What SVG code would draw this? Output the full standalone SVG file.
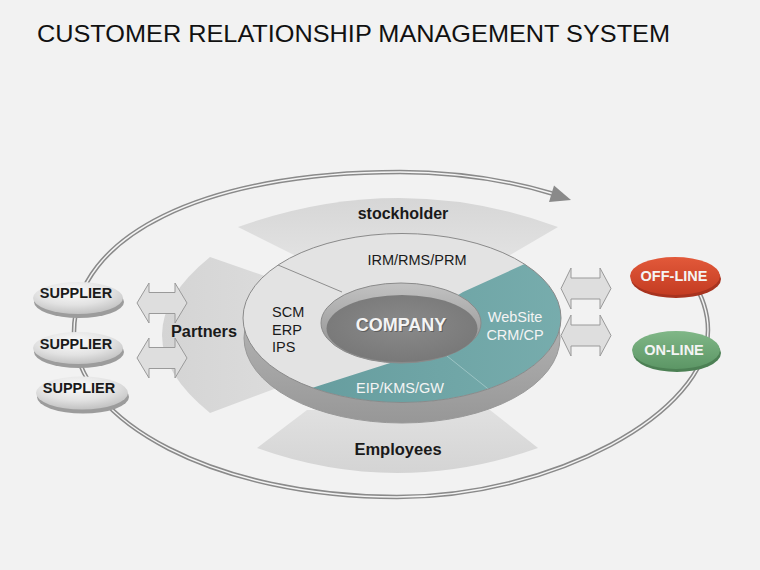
<svg xmlns="http://www.w3.org/2000/svg" width="760" height="570" viewBox="0 0 760 570">
<defs>
<style>
.t{font-family:"Liberation Sans",Arial,sans-serif;}
.title{font-size:24px;fill:#111;}
.b{font-weight:bold;}
.dark{fill:#1a1a1a;}
.white{fill:#f4f4f4;}
.loopOuter{fill:none;stroke:#8a8a8a;stroke-width:4.5;}
.loopInner{fill:none;stroke:#f4f4f4;stroke-width:1.4;}
.barrow{fill:#dedede;stroke:#9a9a9a;stroke-width:1;}
.leaf{stroke:none;}
</style>
<linearGradient id="gLeafTop" x1="0" y1="0" x2="0" y2="1">
<stop offset="0" stop-color="#d6d6d6"/><stop offset="1" stop-color="#e2e2e2"/>
</linearGradient>
<linearGradient id="gLeafBot" x1="0" y1="0" x2="0" y2="1">
<stop offset="0" stop-color="#e0e0e0"/><stop offset="1" stop-color="#d4d4d4"/>
</linearGradient>
<linearGradient id="gLeafLeft" x1="0" y1="0" x2="1" y2="0">
<stop offset="0" stop-color="#d4d4d4"/><stop offset="1" stop-color="#dcdcdc"/>
</linearGradient>
<linearGradient id="gSide" x1="0" y1="0" x2="0" y2="1">
<stop offset="0" stop-color="#c4c4c4"/><stop offset="1" stop-color="#979797"/>
</linearGradient>
<linearGradient id="gTeal" x1="0" y1="0" x2="1" y2="0">
<stop offset="0" stop-color="#62999b"/><stop offset="1" stop-color="#7cb1b1"/>
</linearGradient>
<linearGradient id="gWall" x1="0" y1="0" x2="0" y2="1">
<stop offset="0" stop-color="#c2c2c2"/><stop offset="1" stop-color="#8a8a8a"/>
</linearGradient>
<radialGradient id="gFloor" cx="0.5" cy="0.45" r="0.6">
<stop offset="0" stop-color="#8a8a8a"/><stop offset="1" stop-color="#777"/>
</radialGradient>
<radialGradient id="gSup" cx="0.45" cy="0.3" r="0.7">
<stop offset="0" stop-color="#fbfbfb"/><stop offset="0.6" stop-color="#e2e2e2"/><stop offset="1" stop-color="#c2c2c2"/>
</radialGradient>
<linearGradient id="gRed" x1="0" y1="0" x2="0" y2="1">
<stop offset="0" stop-color="#e2593a"/><stop offset="1" stop-color="#c43c22"/>
</linearGradient>
<linearGradient id="gGreen" x1="0" y1="0" x2="0" y2="1">
<stop offset="0" stop-color="#80b787"/><stop offset="1" stop-color="#5c9665"/>
</linearGradient>
<clipPath id="faceClip"><ellipse cx="402" cy="318" rx="159" ry="84.5"/></clipPath>
<path id="loop" d="M692,280 A308,158 0 0 1 708,330 C708,413.5 552.5,497 397,497 C219,497 74,423 74,332 C74,236 204,172 400,172 A308,158 0 0 1 552,193.5"/>
</defs>

<rect width="760" height="570" fill="#f2f2f2"/>

<text class="t title" x="37" y="42" textLength="633" lengthAdjust="spacingAndGlyphs">CUSTOMER RELATIONSHIP MANAGEMENT SYSTEM</text>

<g id="connectors">
<use href="#loop" class="loopOuter"/>
<use href="#loop" class="loopInner"/>
<polygon points="571,200 554,185.5 549,202" fill="#8a8a8a"/>
</g>

<g id="stockholder">
<path class="leaf" fill="url(#gLeafTop)" d="M238,227 Q400,169 558,227 L505,258 L300,258 Z"/>
<text class="t b dark" x="403" y="219" font-size="16" text-anchor="middle">stockholder</text>
</g>

<g id="employees">
<path class="leaf" fill="url(#gLeafBot)" d="M257,448 Q397,498 538,448 L490,410 L307,410 Z"/>
<text class="t b dark" x="398" y="455" font-size="16.5" text-anchor="middle">Employees</text>
</g>

<g id="partners">
<path class="leaf" fill="url(#gLeafLeft)" d="M210,257 L285,283 L285,385 L210,413 Q114,335 210,257 Z"/>
<text class="t b dark" x="171" y="337" font-size="16" textLength="66" lengthAdjust="spacingAndGlyphs">Partners</text>
</g>

<g id="company-disk">
<ellipse cx="402" cy="338" rx="158" ry="85" fill="url(#gSide)" stroke="#999" stroke-width="1"/>
<ellipse cx="402" cy="318" rx="159" ry="84.5" fill="#e3e3e3"/>
<g clip-path="url(#faceClip)">
<polygon points="463,292 540,257 640,240 640,470 240,470 290,395 412,356 402,330" fill="url(#gTeal)"/>
<line x1="278" y1="265" x2="342" y2="292" stroke="#8e8e8e" stroke-width="1"/>
<line x1="447" y1="356" x2="497" y2="396" stroke="#9cc4c4" stroke-width="1"/>
</g>
<ellipse cx="402" cy="318" rx="159" ry="84.5" fill="none" stroke="#8a8a8a" stroke-width="1"/>
<ellipse cx="401" cy="323" rx="80" ry="40" fill="url(#gWall)" stroke="#8a8a8a" stroke-width="1"/>
<ellipse cx="402" cy="328.5" rx="75.5" ry="33.5" fill="url(#gFloor)"/>
<text class="t b" x="401" y="331" font-size="18" text-anchor="middle" fill="#3a3a3a" opacity="0.5" transform="translate(1,1)">COMPANY</text>
<text class="t b white" x="401" y="331" font-size="18" text-anchor="middle">COMPANY</text>
</g>

<g id="irm">
<text class="t dark" x="417" y="265" font-size="14.5" text-anchor="middle">IRM/RMS/PRM</text>
</g>
<g id="scm">
<text class="t dark" x="272" y="317" font-size="14.5">SCM</text>
<text class="t dark" x="272" y="334.5" font-size="14.5">ERP</text>
<text class="t dark" x="272" y="352" font-size="14.5">IPS</text>
</g>
<g id="website">
<text class="t white" x="515" y="322" font-size="14.5" text-anchor="middle">WebSite</text>
<text class="t white" x="515" y="340" font-size="14.5" text-anchor="middle">CRM/CP</text>
</g>
<g id="eip">
<text class="t white" x="400" y="393" font-size="14.5" text-anchor="middle">EIP/KMS/GW</text>
</g>

<g id="arrows">
<path class="barrow" d="M137,303 L149,283 L149,292.5 L175,292.5 L175,283 L187,303 L175,323 L175,313.5 L149,313.5 L149,323 Z"/>
<path class="barrow" d="M137,358 L149,338 L149,347.5 L175,347.5 L175,338 L187,358 L175,378 L175,368.5 L149,368.5 L149,378 Z"/>
<path class="barrow" d="M561,288.5 L571,268 L571,278 L600,278 L600,268 L611,288.5 L600,309 L600,299 L571,299 L571,309 Z"/>
<path class="barrow" d="M561,335.5 L571,315 L571,325 L600,325 L600,315 L611,335.5 L600,356 L600,346 L571,346 L571,356 Z"/>
</g>

<g id="supplier1">
<ellipse cx="79" cy="302" rx="45" ry="16" fill="#9c9c9c"/>
<ellipse cx="78" cy="298" rx="45" ry="16" fill="url(#gSup)"/>
<text class="t b dark" x="76" y="298" font-size="14.5" text-anchor="middle">SUPPLIER</text>
</g>
<g id="supplier2">
<ellipse cx="79" cy="352" rx="45" ry="16" fill="#9c9c9c"/>
<ellipse cx="78" cy="348" rx="45" ry="16" fill="url(#gSup)"/>
<text class="t b dark" x="76" y="349" font-size="14.5" text-anchor="middle">SUPPLIER</text>
</g>
<g id="supplier3">
<ellipse cx="83" cy="397" rx="46" ry="16.5" fill="#9c9c9c"/>
<ellipse cx="82" cy="393" rx="46" ry="16.5" fill="url(#gSup)"/>
<text class="t b dark" x="79" y="393" font-size="14.5" text-anchor="middle">SUPPLIER</text>
</g>

<g id="offline">
<ellipse cx="676" cy="279" rx="45" ry="19" fill="#a8331f"/>
<ellipse cx="675" cy="276" rx="45" ry="19" fill="url(#gRed)"/>
<text class="t b white" x="674" y="281" font-size="14.5" text-anchor="middle">OFF-LINE</text>
</g>
<g id="online">
<ellipse cx="677" cy="353" rx="44" ry="19" fill="#4c8054"/>
<ellipse cx="676" cy="350" rx="44" ry="19" fill="url(#gGreen)"/>
<text class="t b white" x="674" y="355" font-size="14.5" text-anchor="middle">ON-LINE</text>
</g>
</svg>
